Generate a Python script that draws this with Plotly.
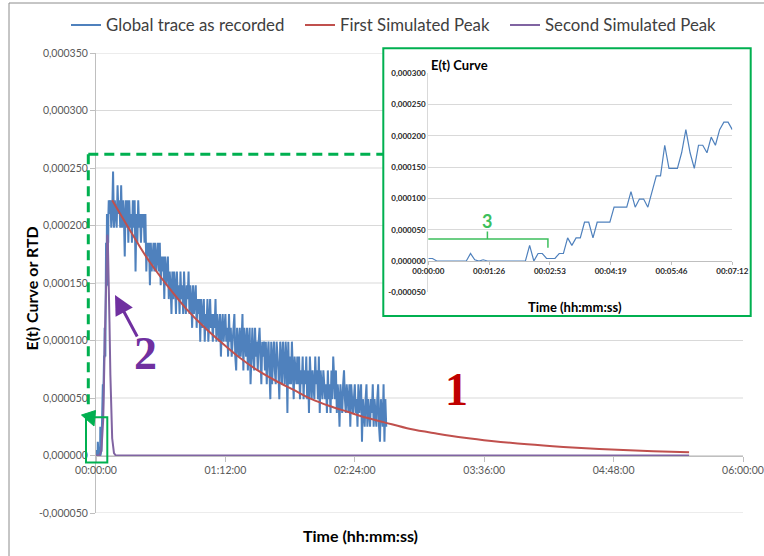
import plotly.graph_objects as go

# ---------------- data (E values in units of 1e-6) ----------------
# inset / start of record: one sample every 6 s, from 00:00:00 to 00:07:12
inset_step_s = 6
inset_vals = [4, 4, 0, 0, 0, 0, 0, 0, 0, 0,
              12, 2, 0, 2, 0, 0, 0, 0, 0, 0,
              0, 0, 0, 0, 25, 0, 12, 12, 4, 4,
              4, 12, 12, 37, 25, 37, 37, 62, 62, 37,
              62, 62, 62, 62, 86, 86, 86, 86, 111, 86,
              99, 99, 86, 111, 136, 136, 185, 148, 148, 148,
              173, 210, 173, 148, 185, 185, 173, 198, 185, 210,
              222, 222, 210]
inset_t = [i * inset_step_s for i in range(len(inset_vals))]

# rest of the global trace: one value every 0.5 min, from 8 min to 161.5 min
global_start_min = 8
global_step_min = 0.5
global_vals = [
    222, 198, 210, 247, 198, 222, 210, 198, 235, 210,   # 8 - 12.5
    222, 198, 235, 198, 222, 210, 173, 222, 198, 222,   # 13 - 17.5
    185, 222, 198, 210, 185, 222, 198, 222, 160, 210,   # 18 - 22.5
    185, 222, 198, 210, 185, 210, 198, 210, 185, 210,   # 23 - 27.5
    160, 185, 173, 185, 148, 185, 160, 173, 185, 160,   # 28 - 32.5
    185, 160, 173, 185, 160, 185, 148, 173, 160, 173,   # 33 - 37.5
    136, 173, 148, 160, 173, 136, 160, 148, 123, 160,   # 38 - 42.5
    136, 160, 148, 123, 160, 136, 148, 123, 160, 136,   # 43 - 47.5
    148, 123, 160, 136, 123, 148, 136, 160, 123, 148,   # 48 - 52.5
    136, 111, 148, 123, 136, 148, 111, 136, 123, 136,   # 53 - 57.5
    99, 136, 111, 123, 136, 99, 123, 111, 136, 99,      # 58 - 62.5
    123, 136, 111, 123, 99, 123, 111, 136, 99, 123,     # 63 - 67.5
    111, 99, 123, 86, 111, 123, 99, 111, 123, 99,       # 68 - 72.5
    111, 86, 123, 99, 111, 86, 99, 111, 123, 86,        # 73 - 77.5
    74, 111, 99, 86, 111, 86, 99, 123, 74, 111,         # 78 - 82.5
    99, 86, 111, 74, 99, 111, 62, 99, 111, 86,          # 83 - 87.5
    74, 111, 86, 99, 74, 99, 111, 86, 62, 99,           # 88 - 92.5
    86, 99, 74, 99, 62, 86, 99, 74, 49, 99,             # 93 - 97.5
    62, 86, 99, 74, 62, 99, 86, 74, 49, 99,             # 98 - 102.5
    86, 62, 99, 74, 62, 99, 86, 37, 99, 62,             # 103 - 107.5
    86, 62, 99, 74, 49, 86, 74, 62, 86, 62,             # 108 - 112.5
    86, 49, 74, 62, 86, 49, 74, 62, 86, 49,             # 113 - 117.5
    74, 37, 86, 62, 49, 74, 62, 49, 86, 62,             # 118 - 122.5
    74, 49, 86, 37, 74, 62, 49, 74, 62, 49,             # 123 - 127.5
    62, 37, 74, 49, 62, 37, 74, 49, 86, 62,             # 128 - 132.5
    49, 74, 37, 62, 49, 25, 62, 49, 37, 62,             # 133 - 137.5
    74, 49, 37, 62, 49, 37, 62, 25, 62, 49,             # 138 - 142.5
    37, 49, 62, 37, 49, 25, 62, 37, 49, 62,             # 143 - 147.5
    12, 49, 37, 25, 49, 62, 25, 49, 37, 25,             # 148 - 152.5
    49, 37, 62, 25, 49, 37, 25, 49, 62, 25,             # 153 - 157.5
    12, 49, 37, 25, 62, 12, 49, 25,                     # 158 - 161.5
]
global_t = [global_start_min + i * global_step_min for i in range(len(global_vals))]

# first simulated peak (minutes, 1e-6)
first_t = [9, 15, 20, 25, 30, 40, 50, 60, 70, 80, 90, 100, 110, 120, 130, 140,
           150, 160, 175, 190, 205, 220, 240, 260, 280, 300, 315, 330]
first_v = [222, 206, 193, 180, 168, 147, 128, 112, 98, 85, 74, 65, 57, 49, 43, 38,
           33, 29, 23, 19, 15.5, 12.7, 9.7, 7.4, 5.6, 4.3, 3.5, 2.8]

# second simulated peak (minutes, 1e-6)
second_t = [0, 2, 3, 4, 5, 5.5, 6, 6.3, 6.6, 7, 7.5, 8, 9, 10, 11, 12, 330]
second_v = [0, 0.3, 4.4, 31, 107, 154, 186, 192, 186, 162, 116, 70, 15, 2, 0, 0, 0]

# axes
main_x_ticks = [0, 72, 144, 216, 288, 360]
main_x_labels = ["00:00:00", "01:12:00", "02:24:00", "03:36:00", "04:48:00", "06:00:00"]
main_y_ticks = [-50, 0, 50, 100, 150, 200, 250, 300, 350]
main_y_labels = ["-0,000050", "0,000000", "0,000050", "0,000100", "0,000150",
                 "0,000200", "0,000250", "0,000300", "0,000350"]
inset_x_ticks = [0, 86.4, 172.8, 259.2, 345.6, 432]
inset_x_labels = ["00:00:00", "00:01:26", "00:02:53", "00:04:19", "00:05:46", "00:07:12"]
inset_y_ticks = [-50, 0, 50, 100, 150, 200, 250, 300]
inset_y_labels = ["-0,000050", "0,000000", "0,000050", "0,000100",
                  "0,000150", "0,000200", "0,000250", "0,000300"]

# ---------------- figure ----------------
BLUE = "#4F81BD"
RED = "#C0504D"
PURPLE = "#8064A2"
GREEN = "#00B050"
FONT = "Lato"

blue_x = [s / 60 for s in inset_t] + global_t
blue_y = inset_vals + global_vals

fig = go.Figure()
fig.add_trace(go.Scatter(x=blue_x, y=blue_y, mode="lines", name="Global trace as recorded",
                         line=dict(color=BLUE, width=2), xaxis="x", yaxis="y",
                         legend="legend"))
fig.add_trace(go.Scatter(x=first_t, y=first_v, mode="lines", name="First Simulated Peak",
                         line=dict(color=RED, width=2, shape="spline"), xaxis="x", yaxis="y",
                         legend="legend2"))
fig.add_trace(go.Scatter(x=second_t, y=second_v, mode="lines", name="Second Simulated Peak",
                         line=dict(color=PURPLE, width=2), xaxis="x", yaxis="y",
                         legend="legend3"))
fig.add_trace(go.Scatter(x=inset_t, y=inset_vals, mode="lines", showlegend=False,
                         line=dict(color=BLUE, width=1.2), xaxis="x2", yaxis="y2"))

W, H = 764, 556
ML, MR, MT, MB = 96, 21, 53, 43
PW, PH = W - ML - MR, H - MT - MB


def px(xp):
    return (xp - ML) / PW


def py(yp):
    return (H - MB - yp) / PH


shapes = []
for v in main_y_ticks:
    shapes.append(dict(type="line", xref="paper", yref="y", x0=0, x1=1, y0=v, y1=v,
                       line=dict(color="#D9D9D9", width=1), layer="below"))
# inset white box + green border
shapes.append(dict(type="rect", xref="paper", yref="paper", x0=px(383.3), x1=px(750.7),
                   y0=py(316), y1=py(48.3), fillcolor="white", line=dict(width=0), layer="below"))
shapes.append(dict(type="rect", xref="paper", yref="paper", x0=px(383.3), x1=px(750.7),
                   y0=py(316), y1=py(48.3), line=dict(color=GREEN, width=2), layer="above"))
# dashed zoom lines
shapes.append(dict(type="line", xref="paper", yref="paper", x0=px(88.3), x1=px(383.3),
                   y0=py(154.3), y1=py(154.3), line=dict(color=GREEN, width=3, dash="10px,6px")))
shapes.append(dict(type="line", xref="paper", yref="paper", x0=px(88.3), x1=px(88.3),
                   y0=py(154.3), y1=py(406), line=dict(color=GREEN, width=3, dash="10px,6px")))
# small box around start of trace
shapes.append(dict(type="rect", xref="paper", yref="paper", x0=px(86), x1=px(107.3),
                   y0=py(462.5), y1=py(417.3), line=dict(color=GREEN, width=2)))
# arrow head
shapes.append(dict(type="path", xref="paper", yref="paper",
                   path=f"M {px(81.5)},{py(415)} L {px(95.5)},{py(410.5)} L {px(94)},{py(426)} Z",
                   fillcolor=GREEN, line=dict(color=GREEN, width=1)))
# bracket "3" in inset
shapes.append(dict(type="path", xref="x2", yref="y2",
                   path="M -3,21 L -3,35 L 170,35 L 170,21 M 84,35 L 84,47",
                   line=dict(color="#3CBF5C", width=1.5)))
# outer chart border
shapes.append(dict(type="rect", xref="paper", yref="paper", x0=px(9), x1=px(780),
                   y0=py(570), y1=py(3), line=dict(color="#8C8C8C", width=1)))


def note(text, x, y, size, color, family=FONT, xanchor="center", angle=0):
    return dict(text=text, xref="paper", yref="paper", x=px(x), y=py(y), xanchor=xanchor,
                yanchor="middle", textangle=angle, showarrow=False,
                font=dict(family=family, size=size, color=color))


annotations = [
    note("<b>Time (hh:mm:ss)</b>", 360, 535, 16, "#000000"),
    note("<b>E(t) Curve or RTD</b>", 31.7, 288.7, 16, "#000000", angle=-90),
    note("<b>E(t) Curve</b>", 429, 65, 13, "#000000", xanchor="left"),
    note("<b>Time (hh:mm:ss)</b>", 575, 306.5, 13, "#000000"),
    note("<b>3</b>", 486.7, 221, 18, "#3CBF5C"),
    note("<b>1</b>", 456.7, 389, 46, "#C00000", family="Liberation Serif"),
    note("<b>2</b>", 145, 353, 46, "#7030A0", family="Liberation Serif"),
    dict(text="", xref="paper", yref="paper", x=px(115), y=py(295), ax=23, ay=43,
         showarrow=True, arrowhead=2, arrowsize=1.3, arrowwidth=3, arrowcolor="#7030A0"),
]


def legend_at(text_x):
    return dict(orientation="h", x=px(text_x - 38), xanchor="left", y=py(25),
                yanchor="middle", font=dict(family=FONT, size=16.8, color="#404040"),
                bgcolor="rgba(0,0,0,0)", itemwidth=30)


fig.update_layout(
    width=W, height=H, autosize=False,
    margin=dict(l=ML, r=MR, t=MT, b=MB, autoexpand=False),
    paper_bgcolor="white", plot_bgcolor="white",
    font=dict(family=FONT, color="#404040"),
    showlegend=True,
    legend=legend_at(104),
    legend2=legend_at(338),
    legend3=legend_at(543),
    xaxis=dict(domain=[0, 1], range=[0, 360], tickmode="array", tickvals=main_x_ticks,
               ticktext=main_x_labels, anchor="free", position=py(455.8),
               showline=True, linecolor="#BFBFBF", linewidth=1, ticks="outside", ticklen=5,
               tickcolor="#BFBFBF", showgrid=False, zeroline=False, automargin=False,
               tickfont=dict(family=FONT, size=10.5, color="#595959")),
    yaxis=dict(domain=[0, 1], range=[-50, 350], tickmode="array", tickvals=main_y_ticks,
               ticktext=main_y_labels, showgrid=False, zeroline=False, showline=True,
               linecolor="#BFBFBF", ticks="outside", ticklen=5, tickcolor="#BFBFBF",
               automargin=False, tickfont=dict(family=FONT, size=10.5, color="#595959")),
    xaxis2=dict(domain=[px(428.3), px(732.3)], range=[0, 432], tickmode="array",
                tickvals=inset_x_ticks, ticktext=inset_x_labels, anchor="free",
                position=py(260.7), showline=True, linecolor="#BFBFBF", ticks="outside",
                ticklen=3, tickcolor="#BFBFBF", showgrid=False, zeroline=False,
                automargin=False,
                tickfont=dict(family=FONT, size=8, color="#262626", weight="bold")),
    yaxis2=dict(domain=[py(292.3), py(73.3)], range=[-50, 300], anchor="x2", tickmode="array",
                tickvals=inset_y_ticks, ticktext=inset_y_labels, showgrid=True,
                gridcolor="#D9D9D9", zeroline=False, showline=True, linecolor="#D9D9D9",
                ticks="", automargin=False,
                tickfont=dict(family=FONT, size=8, color="#262626", weight="bold")),
    shapes=shapes,
    annotations=annotations,
)

fig.write_html("out.html")
